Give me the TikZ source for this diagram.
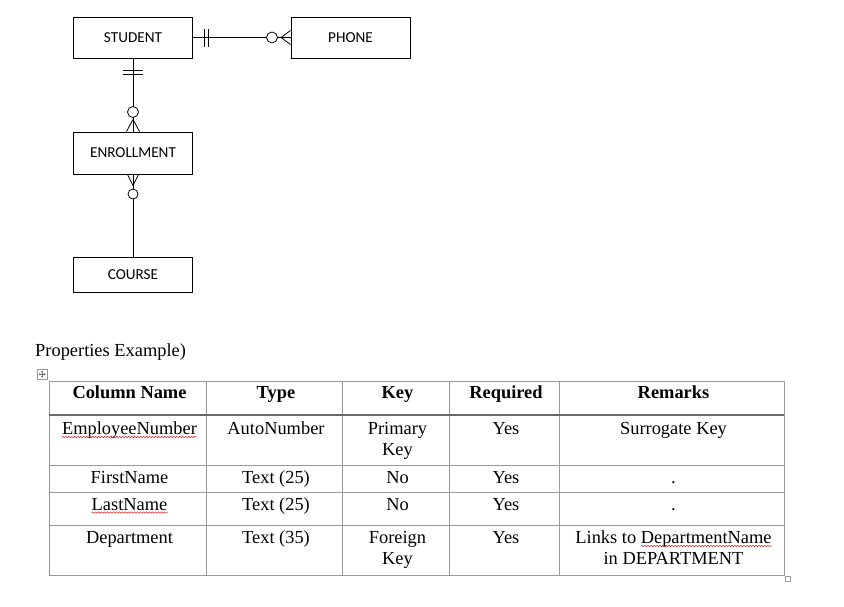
\documentclass[tikz,border=0pt]{standalone}
\usepackage{fontspec}
\setmainfont{Liberation Serif}
\newfontfamily\calibri{Carlito}
\usetikzlibrary{calc,decorations.pathmorphing,arrows.meta}
\definecolor{gridgray}{RGB}{153,153,153}
\definecolor{rulegray}{RGB}{106,106,106}
\definecolor{squigred}{RGB}{225,40,40}
\newlength\dnw
\begin{document}
\settowidth\dnw{\fontsize{18.4}{21}\selectfont DepartmentName}
\begin{tikzpicture}[x=1pt,y=-1pt,
  entity/.style={draw,line width=1pt,minimum width=119pt,minimum height=41pt,inner sep=0pt,
    font=\calibri\fontsize{15.2}{18}\selectfont},
  erline/.style={line width=0.8pt},
  grid/.style={draw=gridgray,line width=1pt},
  hrule/.style={draw=rulegray,line width=2pt},
  cell/.style={inner sep=0pt,anchor=base,font=\fontsize{18.4}{21}\selectfont},
  head/.style={cell,font=\bfseries\fontsize{18.4}{21}\selectfont},
  squig/.style={draw=squigred,line width=0.5pt,decorate,
    decoration={snake,amplitude=0.7pt,segment length=3pt}}
]
\useasboundingbox (0,0) rectangle (844,606);

% ---------- ER diagram ----------
\node[entity] (student) at (133,37.5) {STUDENT};
\node[entity] (phone) at (350.5,37.5) {PHONE};
\node[entity,minimum height=42pt] (enroll) at (133,153) {ENROLLMENT};
\node[entity,minimum height=35pt] (course) at (133,274.5) {COURSE};

% STUDENT -- PHONE
\draw[erline] (student.east) -- (phone.west);
\draw[erline] ($(student.east)+(11,-9)$) -- ($(student.east)+(11,9)$);
\draw[erline] ($(student.east)+(15,-9)$) -- ($(student.east)+(15,9)$);
\draw[erline,fill=white] ($(phone.west)+(-18.5,0)$) circle[radius=5.5pt];
\draw[erline] ($(phone.west)+(0,-7)$) -- ($(phone.west)+(-9.5,0)$) -- ($(phone.west)+(0,7)$);

% STUDENT -- ENROLLMENT
\draw[erline] (student.south) -- (enroll.north);
\draw[erline] ($(student.south)+(-10,12)$) -- ($(student.south)+(10,12)$);
\draw[erline] ($(student.south)+(-10,16)$) -- ($(student.south)+(10,16)$);
\draw[erline,fill=white] ($(enroll.north)+(0,-19.5)$) circle[radius=5.5pt];
\draw[erline] ($(enroll.north)+(-6.5,0)$) -- ($(enroll.north)+(0,-12)$) -- ($(enroll.north)+(6.5,0)$);

% ENROLLMENT -- COURSE
\draw[erline] (enroll.south) -- (course.north);
\draw[erline] ($(enroll.south)+(-5.5,0)$) -- ($(enroll.south)+(0,11)$) -- ($(enroll.south)+(5.5,0)$);
\draw[erline,fill=white] ($(enroll.south)+(0,19.5)$) circle[radius=5pt];

% ---------- Properties table ----------
\node[cell,anchor=base west] (title) at (35,356) {Properties Example)};

% move handle
\draw[draw=gridgray,line width=0.8pt] (37,369) rectangle (47.3,379.3);
\draw[line width=0.5pt,draw=rulegray,{Stealth[length=1.6pt,width=2.2pt]}-{Stealth[length=1.6pt,width=2.2pt]}] (38.6,374.2) -- (45.7,374.2);
\draw[line width=0.5pt,draw=rulegray,{Stealth[length=1.6pt,width=2.2pt]}-{Stealth[length=1.6pt,width=2.2pt]}] (42.15,370.6) -- (42.15,377.7);

% grid
\draw[grid] (49,381) rectangle (784,575);
\foreach \x in {206,342,449,559} \draw[grid] (\x,381) -- (\x,575);
\foreach \y in {465,492,525} \draw[grid] (49,\y) -- (784,\y);
\draw[hrule] (49,414.5) -- (784,414.5);
% resize handle
\draw[draw=gridgray,line width=0.8pt] (785.5,576.5) rectangle (790.8,581.6);

% header
\node[head] (h1) at (129.5,398) {Column Name};
\node[head] (h2) at (276,398) {Type};
\node[head] (h3) at (397.5,398) {Key};
\node[head] (h4) at (506,398) {Required};
\node[head] (h5) at (673.5,398) {Remarks};

% row 1
\node[cell] (r1c1) at (129.5,434) {EmployeeNumber};
\node[cell] (r1c2) at (276,434) {AutoNumber};
\node[cell] (r1c3a) at (397.5,434) {Primary};
\node[cell] (r1c3b) at (397.5,455) {Key};
\node[cell] (r1c4) at (506,434) {Yes};
\node[cell] (r1c5) at (673.5,434) {Surrogate Key};

% row 2
\node[cell] (r2c1) at (129.5,483) {FirstName};
\node[cell] (r2c2) at (276,483) {Text (25)};
\node[cell] (r2c3) at (397.5,483) {No};
\node[cell] (r2c4) at (506,483) {Yes};
\node[cell] (r2c5) at (673.5,483) {.};

% row 3
\node[cell] (r3c1) at (129.5,510) {LastName};
\node[cell] (r3c2) at (276,510) {Text (25)};
\node[cell] (r3c3) at (397.5,510) {No};
\node[cell] (r3c4) at (506,510) {Yes};
\node[cell] (r3c5) at (673.5,510) {.};

% row 4
\node[cell] (r4c1) at (129.5,543) {Department};
\node[cell] (r4c2) at (276,543) {Text (35)};
\node[cell] (r4c3a) at (397.5,543) {Foreign};
\node[cell] (r4c3b) at (397.5,564) {Key};
\node[cell] (r4c4) at (506,543) {Yes};
\node[cell] (r4c5a) at (673.5,543) {Links to DepartmentName};
\node[cell] (r4c5b) at (673.5,564) {in DEPARTMENT};

% spell-check squiggles
\draw[squig] ([yshift=-3pt]r1c1.base west) -- ([yshift=-3pt]r1c1.base east);
\draw[squig] ([yshift=-2.5pt]r3c1.base west) -- ([yshift=-2.5pt]r3c1.base east);
\draw[squig] ([xshift=-\dnw,yshift=-3pt]r4c5a.base east) -- ([yshift=-3pt]r4c5a.base east);
\end{tikzpicture}
\end{document}
